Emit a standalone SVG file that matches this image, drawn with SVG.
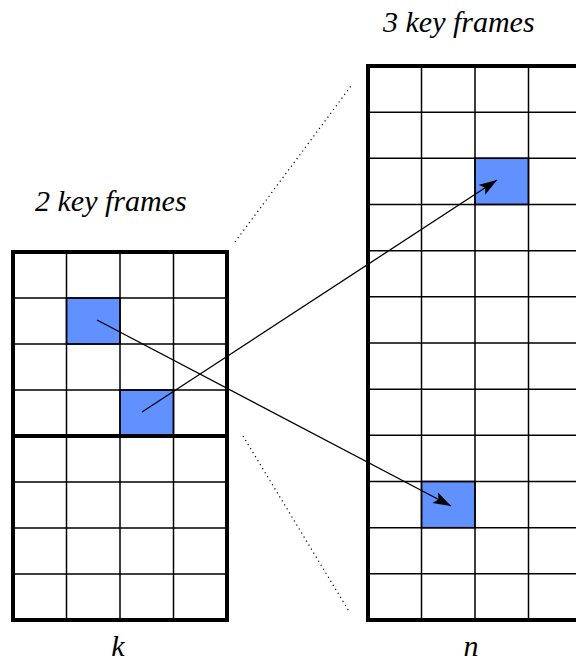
<svg xmlns="http://www.w3.org/2000/svg" width="576" height="664" viewBox="0 0 576 664">
<style>
.thin{stroke:#000;stroke-width:1.5;fill:none}
.thick{stroke:#000;stroke-width:4;fill:none}
.blue{fill:#6190ff;stroke:#000;stroke-width:1.5}
.lbl{font-family:"Liberation Serif","Times New Roman","DejaVu Serif",serif;font-style:italic;font-size:30px;fill:#000}
.conn{stroke:#000;stroke-width:1.3;fill:none}
.dot{stroke:#000;stroke-width:1.2;stroke-dasharray:1.2 3.5;fill:none}
</style>
<defs>
<marker id="ah" markerUnits="userSpaceOnUse" markerWidth="20" markerHeight="12" refX="18" refY="6" orient="auto">
<path d="M0,0 L18,6 L0,12 L4,6 Z" fill="#000"/>
</marker>
</defs>
<rect width="576" height="664" fill="#fff"/>
<g id="left-grid">
<rect class="blue" x="66.5" y="298" width="53.5" height="46"/>
<rect class="blue" x="120" y="390" width="53.5" height="46"/>
<path class="thin" d="M66.5,252V620M120,252V620M173.5,252V620M13,298H227M13,344H227M13,390H227M13,482H227M13,528H227M13,574H227"/>
<rect class="thick" x="13" y="252" width="214" height="368"/>
<line class="thick" x1="13" y1="436" x2="227" y2="436"/>
</g>
<g id="right-grid">
<rect class="blue" x="475" y="158.3" width="53.5" height="46.2"/>
<rect class="blue" x="421.5" y="481.5" width="53.5" height="46.2"/>
<path class="thin" d="M421.5,66V620M475,66V620M528.5,66V620M368,112.2H582M368,158.3H582M368,204.5H582M368,250.7H582M368,296.8H582M368,343H582M368,389.2H582M368,435.3H582M368,481.5H582M368,527.7H582M368,573.8H582"/>
<rect class="thick" x="368" y="66" width="214" height="554"/>
</g>
<g id="connectors">
<line class="dot" x1="235" y1="242" x2="351" y2="86"/>
<line class="dot" x1="243" y1="436" x2="350" y2="613"/>
<line class="conn" x1="97" y1="320" x2="451" y2="506" marker-end="url(#ah)"/>
<line class="conn" x1="142" y1="412" x2="497" y2="180" marker-end="url(#ah)"/>
</g>
<g id="labels">
<text class="lbl" x="35" y="211">2 key frames</text>
<text class="lbl" x="383" y="32">3 key frames</text>
<text class="lbl" x="118" y="656" text-anchor="middle">k</text>
<text class="lbl" x="471" y="656" text-anchor="middle">n</text>
</g>
</svg>
